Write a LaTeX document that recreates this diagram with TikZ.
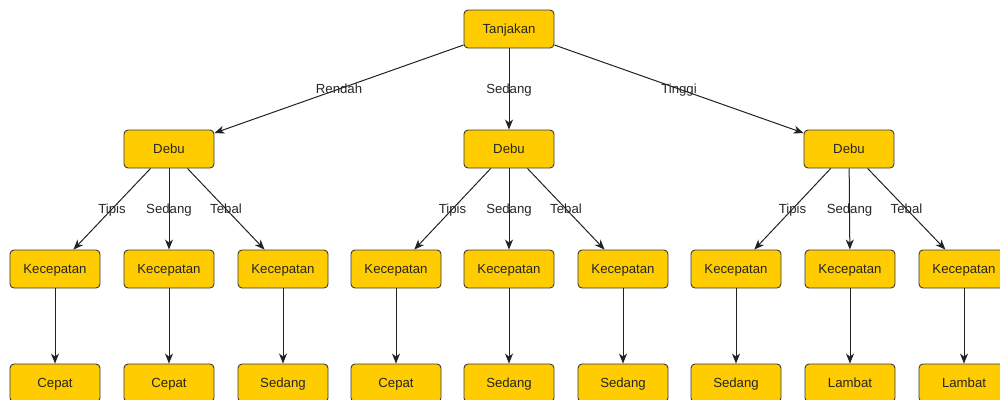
\documentclass[tikz,border=0pt]{standalone}
\usepackage{fontspec}
\setmainfont{Liberation Sans}
\usetikzlibrary{arrows.meta,calc}
\definecolor{boxfill}{HTML}{FFCC00}
\definecolor{boxline}{HTML}{36393D}
\definecolor{linecol}{HTML}{222222}
\begin{document}
\begin{tikzpicture}[x=1pt,y=-1pt,
  txt/.style={font=\fontsize{13.2}{15}\selectfont,text=black!85,text height=9.5pt,text depth=0pt},
  box/.style={txt,draw=boxline,fill=boxfill,line width=0.9pt,rounded corners=4pt,
    minimum width=90pt,minimum height=38pt,inner sep=0pt},
  link/.style={draw=linecol,line width=1pt,-{Stealth[length=10pt,width=8pt,inset=3pt]}},
  lbl/.style={txt,inner sep=0pt}]
\useasboundingbox (0,0) rectangle (1000,399);
% root
\node[box] (root) at (509,29) {Tanjakan};
% second level
\node[box] (d1) at (169,149) {Debu};
\node[box] (d2) at (509,149) {Debu};
\node[box] (d3) at (849,149) {Debu};
% third level
\foreach \n/\x in {k1/55,k2/169,k3/283,k4/396,k5/509,k6/623,k7/736,k8/850,k9/964}
  \node[box] (\n) at (\x,269) {Kecepatan};
% leaves
\node[box] (c1) at (55,383) {Cepat};
\node[box] (c2) at (169,383) {Cepat};
\node[box] (c3) at (283,383) {Sedang};
\node[box] (c4) at (396,383) {Cepat};
\node[box] (c5) at (509,383) {Sedang};
\node[box] (c6) at (623,383) {Sedang};
\node[box] (c7) at (736,383) {Sedang};
\node[box] (c8) at (850,383) {Lambat};
\node[box] (c9) at (964,383) {Lambat};
% root edges
\foreach \t/\l in {d1/Rendah,d2/Sedang,d3/Tinggi}{
  \draw[link] (root) -- (\t);
  \node[lbl] at ($(root)!0.5!(\t)$) {\l};
}
% debu edges
\foreach \p/\a/\b/\c in {d1/k1/k2/k3,d2/k4/k5/k6,d3/k7/k8/k9}{
  \draw[link] (\p) -- (\a);
  \draw[link] (\p) -- (\b);
  \draw[link] (\p) -- (\c);
  \node[lbl] at ($(\p)!0.5!(\a)$) {Tipis};
  \node[lbl] at ($(\p)!0.5!(\b)$) {Sedang};
  \node[lbl] at ($(\p)!0.5!(\c)$) {Tebal};
}
% speed edges
\foreach \i in {1,...,9}
  \draw[link] (k\i) -- (c\i);
\end{tikzpicture}
\end{document}
